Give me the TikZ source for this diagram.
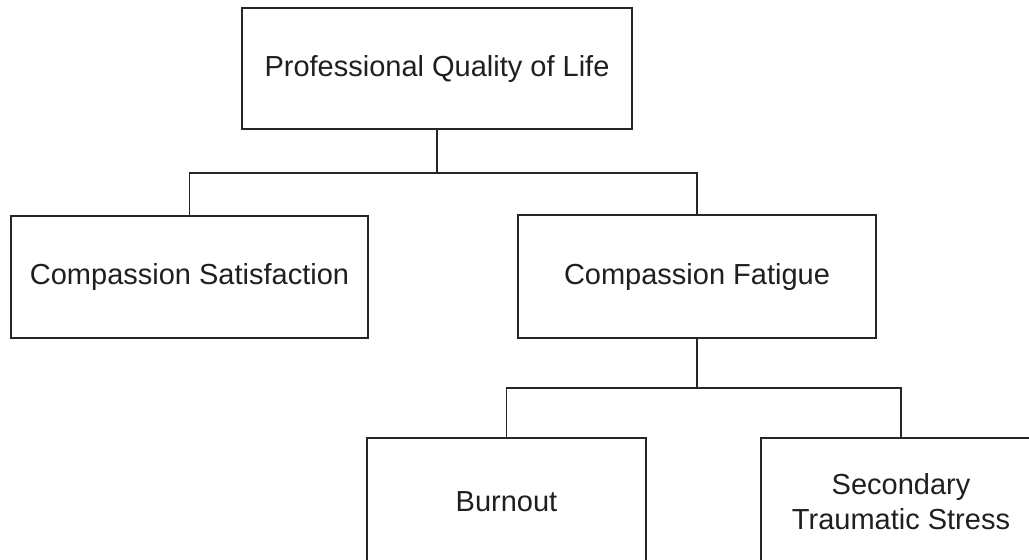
\documentclass[tikz,border=0pt]{standalone}
\usepackage{fontspec}
\setmainfont{Liberation Sans}
\begin{document}
\begin{tikzpicture}[x=1pt,y=-1pt,
  box/.style={draw=black!85, line width=1.5pt, inner sep=0pt, align=center,
    font=\fontsize{29}{35}\selectfont, text=black!88},
  conn/.style={draw=black!85, line width=1.5pt}]
\useasboundingbox (0,0) rectangle (1029,560);
\clip (0,0) rectangle (1029,560);
\node[box, minimum width=390pt, minimum height=121pt] (top) at (437,68.5) {Professional Quality of Life};
\node[box, minimum width=357pt, minimum height=122pt] (cs) at (189.5,277) {Compassion Satisfaction};
\node[box, minimum width=358pt, minimum height=123pt] (cf) at (697,276.5) {Compassion Fatigue};
\node[box, minimum width=279pt, minimum height=128pt] (bo) at (506.5,502) {Burnout};
\node[box, minimum width=280pt, minimum height=128pt] (sts) at (901,502) {Secondary\\Traumatic Stress};
\coordinate (j1) at (437,173);
\coordinate (j2) at (697,388);
\draw[conn] (top.south) -- (j1);
\draw[conn] (cs.north) |- (j1);
\draw[conn] (cf.north) |- (j1);
\draw[conn] (cf.south) -- (j2);
\draw[conn] (bo.north) |- (j2);
\draw[conn] (sts.north) |- (j2);
\end{tikzpicture}
\end{document}
